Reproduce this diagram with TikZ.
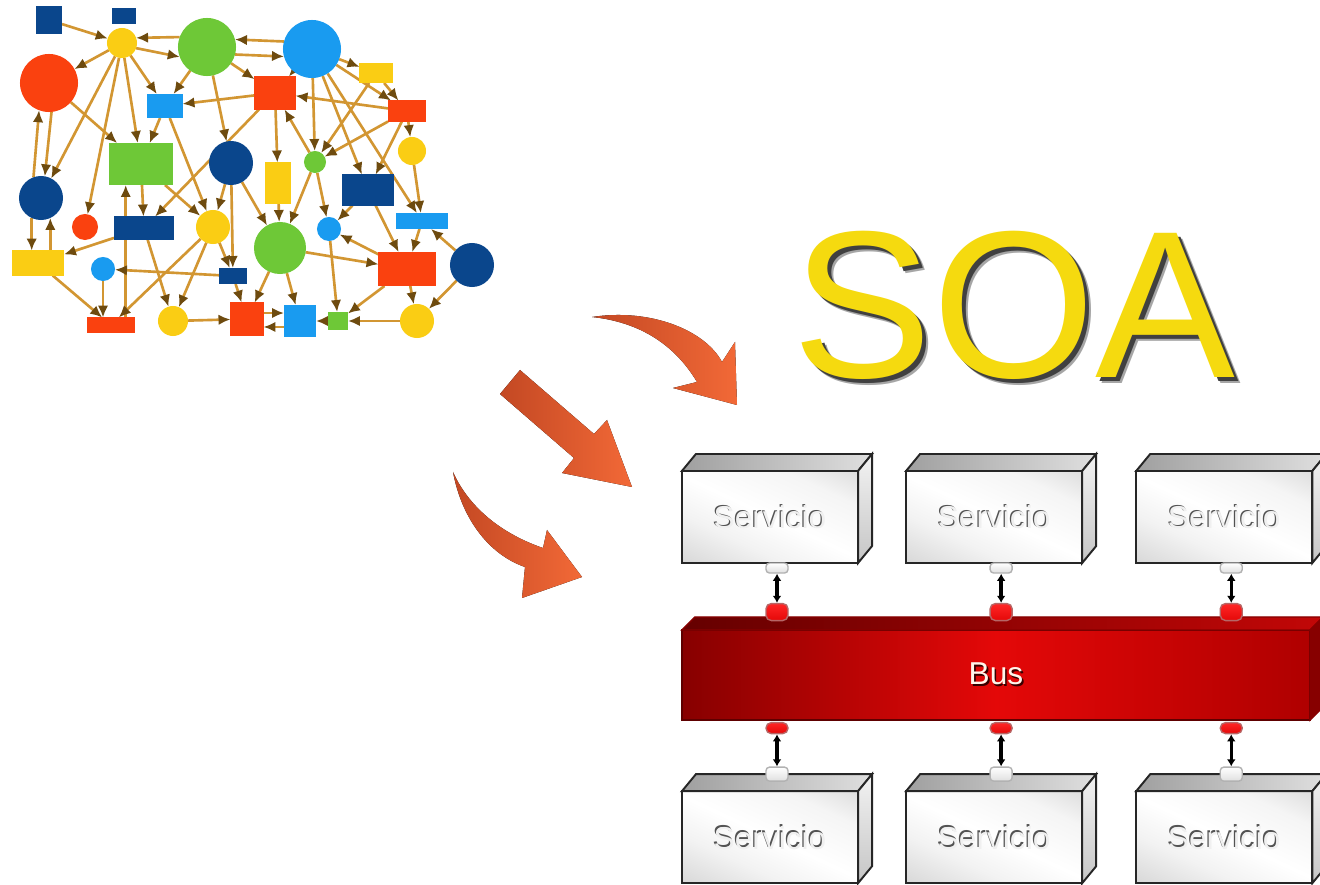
\documentclass[tikz,border=0pt]{standalone}
\usepackage{fontspec}
\newfontfamily\arial{Liberation Sans}
\usepackage{tikz}
\usetikzlibrary{arrows.meta,positioning}

\definecolor{azul}{RGB}{10,70,140}
\definecolor{celeste}{RGB}{25,155,240}
\definecolor{verde}{RGB}{110,200,55}
\definecolor{rojo}{RGB}{250,65,15}
\definecolor{amarillo}{RGB}{250,205,20}
\definecolor{oro}{RGB}{210,150,50}
\definecolor{cafe}{RGB}{110,75,15}
\definecolor{naranja1}{RGB}{195,72,35}
\definecolor{naranja2}{RGB}{242,105,55}
\definecolor{soaamarillo}{RGB}{245,218,15}
\definecolor{rojooscuro}{RGB}{135,0,0}
\definecolor{rojovivo}{RGB}{228,8,8}
\definecolor{rojobus}{RGB}{175,0,0}

\pgfdeclarelayer{fondo}
\pgfsetlayers{fondo,main}

\pgfdeclarehorizontalshading{frente}{100bp}{color(0bp)=(gray!50); color(35bp)=(gray!10); color(50bp)=(white); color(70bp)=(gray!8); color(100bp)=(gray!50)}

\tikzstyle{circulo} = [circle, inner sep=0pt, outer sep=0pt]
\tikzstyle{cuadro} = [rectangle, inner sep=0pt, outer sep=0pt]
\tikzstyle{enlace} = [draw=oro, line width=0.75pt, -{Latex[length=3.4pt,width=3pt,color=cafe]}]
\tikzstyle{servicio} = [
	draw=black!85,
	line width=0.55pt,
	outer sep=0pt,
	shading=frente, shading angle=65,
	minimum width=1.76cm,
	minimum height=0.92cm,
	font=\arial\fontsize{9}{10}\selectfont
]
\tikzstyle{techo} = [draw=black!85, line width=0.55pt, left color=gray!75, right color=gray!25]
\tikzstyle{lado} = [draw=black!85, line width=0.55pt, top color=gray!10, bottom color=gray!45]
\tikzstyle{bus} = [
	draw=rojooscuro!70!black,
	line width=0.4pt,
	outer sep=0pt,
	left color=rojooscuro, right color=rojobus, middle color=rojovivo,
	minimum width=6.28cm,
	minimum height=0.90cm,
	font=\arial\fontsize{9}{10}\selectfont
]
\tikzstyle{bustecho} = [draw=rojooscuro, line width=0.4pt, left color=rojooscuro!75!black, right color=rojovivo!85!black]
\tikzstyle{buslado} = [draw=rojooscuro, fill=rojooscuro]
\tikzstyle{enchufe} = [rectangle, rounded corners=1pt, draw=gray!60, top color=white, bottom color=gray!25, minimum width=0.22cm, minimum height=0.10cm, inner sep=0pt]
\tikzstyle{conector} = [rectangle, rounded corners=1.5pt, draw=rojooscuro!60, top color=red!85, bottom color=rojovivo, minimum width=0.22cm, minimum height=0.17cm, inner sep=0pt]
\tikzstyle{doble} = [line width=1pt, {Latex[length=2pt,width=2.5pt]}-{Latex[length=2pt,width=2.5pt]}]
\tikzstyle{flecha} = [left color=naranja1, right color=naranja2]

% caras de arriba y del lado de una caja
\newcommand{\volumen}[5]{%
	\draw[#4] (#1.north west) -- ([shift={(#2,#3)}]#1.north west) -- ([shift={(#2,#3)}]#1.north east) -- (#1.north east) -- cycle;
	\draw[#5] (#1.north east) -- ([shift={(#2,#3)}]#1.north east) -- ([shift={(#2,#3)}]#1.south east) -- (#1.south east) -- cycle;
}
% texto con sombra
\newcommand{\relieve}[5]{\makebox[0pt][l]{\hspace*{#1}\raisebox{#2}{\textcolor{#4}{#5}}}\textcolor{#3}{#5}}

\begin{document}
\begin{tikzpicture}[x=0.01cm, y=-0.01cm, node distance=2cm]
	\useasboundingbox (0,0) rectangle (1320,885);
	\begin{pgfonlayer}{fondo}
		\fill[white] (0,0) rectangle (1320,885);
	\end{pgfonlayer}

	% red desordenada
	\node[cuadro, name = AZ1, fill=azul, minimum width=0.26cm, minimum height=0.27cm] at (49,20) {};
	\node[cuadro, name = AZ2, fill=azul, minimum width=0.24cm, minimum height=0.15cm] at (124,16) {};
	\node[circulo, name = AM1, fill=amarillo, minimum size=0.30cm] at (122,43) {};
	\node[circulo, name = VE1, fill=verde, minimum size=0.58cm] at (207,47) {};
	\node[circulo, name = CE1, fill=celeste, minimum size=0.58cm] at (312,49) {};
	\node[cuadro, name = AM2, fill=amarillo, minimum width=0.33cm, minimum height=0.20cm] at (376,73) {};
	\node[circulo, name = RO1, fill=rojo, minimum size=0.58cm] at (49,83) {};
	\node[cuadro, name = CE2, fill=celeste, minimum width=0.35cm, minimum height=0.24cm] at (165,106) {};
	\node[cuadro, name = RO2, fill=rojo, minimum width=0.41cm, minimum height=0.33cm] at (275,93) {};
	\node[cuadro, name = RO3, fill=rojo, minimum width=0.38cm, minimum height=0.21cm] at (407,111) {};
	\node[circulo, name = AM3, fill=amarillo, minimum size=0.28cm] at (412,151) {};
	\node[cuadro, name = VE2, fill=verde, minimum width=0.63cm, minimum height=0.42cm] at (141,164) {};
	\node[circulo, name = AZ3, fill=azul, minimum size=0.44cm] at (231,163) {};
	\node[cuadro, name = AM4, fill=amarillo, minimum width=0.25cm, minimum height=0.41cm] at (278,183) {};
	\node[circulo, name = VE3, fill=verde, minimum size=0.22cm] at (315,162) {};
	\node[cuadro, name = AZ4, fill=azul, minimum width=0.51cm, minimum height=0.31cm] at (368,190) {};
	\node[circulo, name = AZ5, fill=azul, minimum size=0.44cm] at (41,198) {};
	\node[circulo, name = RO4, fill=rojo, minimum size=0.26cm] at (85,227) {};
	\node[cuadro, name = AZ6, fill=azul, minimum width=0.60cm, minimum height=0.23cm] at (144,228) {};
	\node[circulo, name = AM5, fill=amarillo, minimum size=0.34cm] at (213,227) {};
	\node[circulo, name = VE4, fill=verde, minimum size=0.52cm] at (280,248) {};
	\node[circulo, name = CE3, fill=celeste, minimum size=0.24cm] at (329,229) {};
	\node[cuadro, name = CE4, fill=celeste, minimum width=0.52cm, minimum height=0.16cm] at (422,221) {};
	\node[circulo, name = AZ7, fill=azul, minimum size=0.44cm] at (472,265) {};
	\node[cuadro, name = AM6, fill=amarillo, minimum width=0.52cm, minimum height=0.25cm] at (38,263) {};
	\node[circulo, name = CE5, fill=celeste, minimum size=0.24cm] at (103,269) {};
	\node[cuadro, name = AZ8, fill=azul, minimum width=0.27cm, minimum height=0.16cm] at (233,276) {};
	\node[cuadro, name = RO5, fill=rojo, minimum width=0.57cm, minimum height=0.34cm] at (407,269) {};
	\node[cuadro, name = RO6, fill=rojo, minimum width=0.48cm, minimum height=0.15cm] at (111,325) {};
	\node[circulo, name = AM7, fill=amarillo, minimum size=0.30cm] at (173,321) {};
	\node[cuadro, name = RO7, fill=rojo, minimum width=0.33cm, minimum height=0.33cm] at (247,319) {};
	\node[cuadro, name = CE6, fill=celeste, minimum width=0.32cm, minimum height=0.32cm] at (300,321) {};
	\node[cuadro, name = VE5, fill=verde, minimum width=0.20cm, minimum height=0.18cm] at (338,321) {};
	\node[circulo, name = AM8, fill=amarillo, minimum size=0.34cm] at (417,321) {};

	\begin{pgfonlayer}{fondo}
	\draw[enlace] (AZ1) -- (AM1);
	\draw[enlace] (VE1.160) -- (AM1.20);
	\draw[enlace] (AM1.-20) -- (VE1.200);
	\draw[enlace] (CE1.165) -- (VE1.15);
	\draw[enlace] (VE1.-15) -- (CE1.195);
	\draw[enlace] (CE1) -- (AM2);
	\draw[enlace] (AM1) -- (RO1);
	\draw[enlace] (AM1) -- (CE2);
	\draw[enlace] (AM1) -- (VE2);
	\draw[enlace] (AM1) -- (AZ5);
	\draw[enlace] (AM1) -- (RO4);
	\draw[enlace] (VE1) -- (CE2);
	\draw[enlace] (VE1) -- (RO2);
	\draw[enlace] (VE1) -- (AZ3);
	\draw[enlace] (CE1) -- (RO2);
	\draw[enlace] (CE1) -- (VE3);
	\draw[enlace] (CE1) -- (AZ4);
	\draw[enlace] (CE1) -- (RO3);
	\draw[enlace] (CE1) -- (CE4);
	\draw[enlace] (AM2) -- (RO3);
	\draw[enlace] (AM2) -- (VE3);
	\draw[enlace] (RO3) -- (RO2);
	\draw[enlace] (RO3) -- (AM3);
	\draw[enlace] (RO3) -- (VE3);
	\draw[enlace] (RO3) -- (AZ4);
	\draw[enlace] (AM3) -- (CE4);
	\draw[enlace] (RO2) -- (CE2);
	\draw[enlace] (RO2) -- (AM4);
	\draw[enlace] (RO2) -- (AZ6);
	\draw[enlace] (CE2) -- (VE2);
	\draw[enlace] (CE2) -- (AM5);
	\draw[enlace] (AZ5.110) -- (RO1.250);
	\draw[enlace] (RO1.275) -- (AZ5.80);
	\draw[enlace] (RO1) -- (VE2);
	\draw[enlace] (AZ5.245) -- (AZ5.245 |- AM6.north);
	\draw[enlace] (AM6.north -| AZ5.295) -- (AZ5.295);
	\draw[enlace] (AZ6) -- (AM6);
	\draw[enlace] (AM6) -- (RO6);
	\draw[enlace] (VE2) -- (AZ6);
	\draw[enlace] (RO6.27) -- (RO6.27 |- VE2.south);
	\draw[enlace] (VE2) -- (AM5);
	\draw[enlace] (CE5.south) -- (CE5.south |- RO6.north);
	\draw[enlace] (AZ8) -- (CE5);
	\draw[enlace] (AM5) -- (AZ8);
	\draw[enlace] (AM5) -- (RO6);
	\draw[enlace] (AZ6) -- (AM7);
	\draw[enlace] (AM5) -- (AM7);
	\draw[enlace] (AM7) -- (RO7);
	\draw[enlace] (AZ3) -- (AM5);
	\draw[enlace] (AZ3) -- (AZ8);
	\draw[enlace] (AZ3) -- (VE4);
	\draw[enlace] (AZ8) -- (RO7);
	\draw[enlace] (VE4) -- (RO7);
	\draw[enlace] (VE4) -- (CE6);
	\draw[enlace] ([yshift=1.7pt]RO7.east) -- ([yshift=1.7pt]RO7.east -| CE6.west);
	\draw[enlace] ([yshift=-1.7pt]CE6.west) -- ([yshift=-1.7pt]CE6.west -| RO7.east);
	\draw[enlace] (VE5) -- (CE6);
	\draw[enlace] (AM8) -- (VE5);
	\draw[enlace] (VE4) -- (RO5);
	\draw[enlace] (RO5) -- (AM8);
	\draw[enlace] (RO5) -- (VE5);
	\draw[enlace] (AZ7) -- (AM8);
	\draw[enlace] (AZ7) -- (CE4);
	\draw[enlace] (CE4) -- (RO5);
	\draw[enlace] (AZ4) -- (RO5);
	\draw[enlace] (AZ4) -- (CE3);
	\draw[enlace] (RO5) -- (CE3);
	\draw[enlace] (CE3) -- (VE5);
	\draw[enlace] (VE3) -- (VE4);
	\draw[enlace] (VE3) -- (CE3);
	\draw[enlace] (VE3) -- (RO2);
	\draw[enlace] (AM4) -- (VE4);
	\end{pgfonlayer}

	% flechas naranjas
	\fill[flecha] (592,317) .. controls (650,308) and (705,330) .. (722,362) -- (735,342) -- (737,405) -- (673,388) -- (697,382) .. controls (675,345) and (640,322) .. (592,317) -- cycle;
	\fill[flecha] (520,370) -- (594,434) -- (607,420) -- (632,487) -- (562,473) -- (574,458) -- (500,394) -- cycle;
	\fill[flecha] (453,472) .. controls (462,520) and (490,555) .. (525,567) -- (522,598) -- (582,577) -- (547,530) -- (543,548) .. controls (505,535) and (470,510) .. (453,472) -- cycle;

	% titulo
	\node[name = SOA, font=\arial\fontsize{59.6}{60}\selectfont, anchor=base, inner sep=0pt] at (1014,378) {\makebox[0pt][l]{\hspace*{1.7pt}\raisebox{-1.7pt}{\textcolor{black!35}{SOA}}}\relieve{1.1pt}{-1.1pt}{soaamarillo}{black!75}{SOA}};

	% servicios de arriba
	\node[servicio, name = SERV1] at (770,517) {\relieve{-0.35pt}{0.35pt}{gray!12}{gray!65!black}{Servicio}};
	\node[servicio, name = SERV2, right of = SERV1, node distance = 2.24cm] {\relieve{-0.35pt}{0.35pt}{gray!12}{gray!65!black}{Servicio}};
	\node[servicio, name = SERV3, right of = SERV2, node distance = 2.30cm] {\relieve{-0.35pt}{0.35pt}{gray!12}{gray!65!black}{Servicio}};
	\volumen{SERV1}{14}{-17}{techo}{lado}
	\volumen{SERV2}{14}{-17}{techo}{lado}
	\volumen{SERV3}{14}{-17}{techo}{lado}

	% bus
	\node[bus, name = BUS] at (996,675) {\relieve{0.45pt}{-0.45pt}{orange!8}{rojooscuro!40!black}{Bus}};
	\volumen{BUS}{13}{-13}{bustecho}{buslado}

	% servicios de abajo
	\node[servicio, name = SERV4, below of = SERV1, node distance = 3.2cm] {\relieve{-0.35pt}{0.35pt}{gray!12}{gray!65!black}{Servicio}};
	\node[servicio, name = SERV5, below of = SERV2, node distance = 3.2cm] {\relieve{-0.35pt}{0.35pt}{gray!12}{gray!65!black}{Servicio}};
	\node[servicio, name = SERV6, below of = SERV3, node distance = 3.2cm] {\relieve{-0.35pt}{0.35pt}{gray!12}{gray!65!black}{Servicio}};
	\volumen{SERV4}{14}{-17}{techo}{lado}
	\volumen{SERV5}{14}{-17}{techo}{lado}
	\volumen{SERV6}{14}{-17}{techo}{lado}

	% conexiones arriba
	\node[enchufe, name = ENC1, below of = SERV1, node distance = 0.51cm, xshift=0.07cm] {};
	\node[enchufe, name = ENC2, below of = SERV2, node distance = 0.51cm, xshift=0.07cm] {};
	\node[enchufe, name = ENC3, below of = SERV3, node distance = 0.51cm, xshift=0.07cm] {};
	\node[conector, name = CON1, below of = ENC1, node distance = 0.44cm] {};
	\node[conector, name = CON2, below of = ENC2, node distance = 0.44cm] {};
	\node[conector, name = CON3, below of = ENC3, node distance = 0.44cm] {};
	\draw[doble] (ENC1.south) -- (CON1.north);
	\draw[doble] (ENC2.south) -- (CON2.north);
	\draw[doble] (ENC3.south) -- (CON3.north);

	% conexiones abajo
	\node[conector, name = CON4, above of = SERV4, node distance = 1.09cm, xshift=0.07cm, minimum height=0.11cm] {};
	\node[conector, name = CON5, above of = SERV5, node distance = 1.09cm, xshift=0.07cm, minimum height=0.11cm] {};
	\node[conector, name = CON6, above of = SERV6, node distance = 1.09cm, xshift=0.07cm, minimum height=0.11cm] {};
	\node[enchufe, name = ENC4, above of = SERV4, node distance = 0.63cm, xshift=0.07cm, minimum height=0.14cm] {};
	\node[enchufe, name = ENC5, above of = SERV5, node distance = 0.63cm, xshift=0.07cm, minimum height=0.14cm] {};
	\node[enchufe, name = ENC6, above of = SERV6, node distance = 0.63cm, xshift=0.07cm, minimum height=0.14cm] {};
	\draw[doble] (CON4.south) -- (ENC4.north);
	\draw[doble] (CON5.south) -- (ENC5.north);
	\draw[doble] (CON6.south) -- (ENC6.north);

\end{tikzpicture}
\end{document}
